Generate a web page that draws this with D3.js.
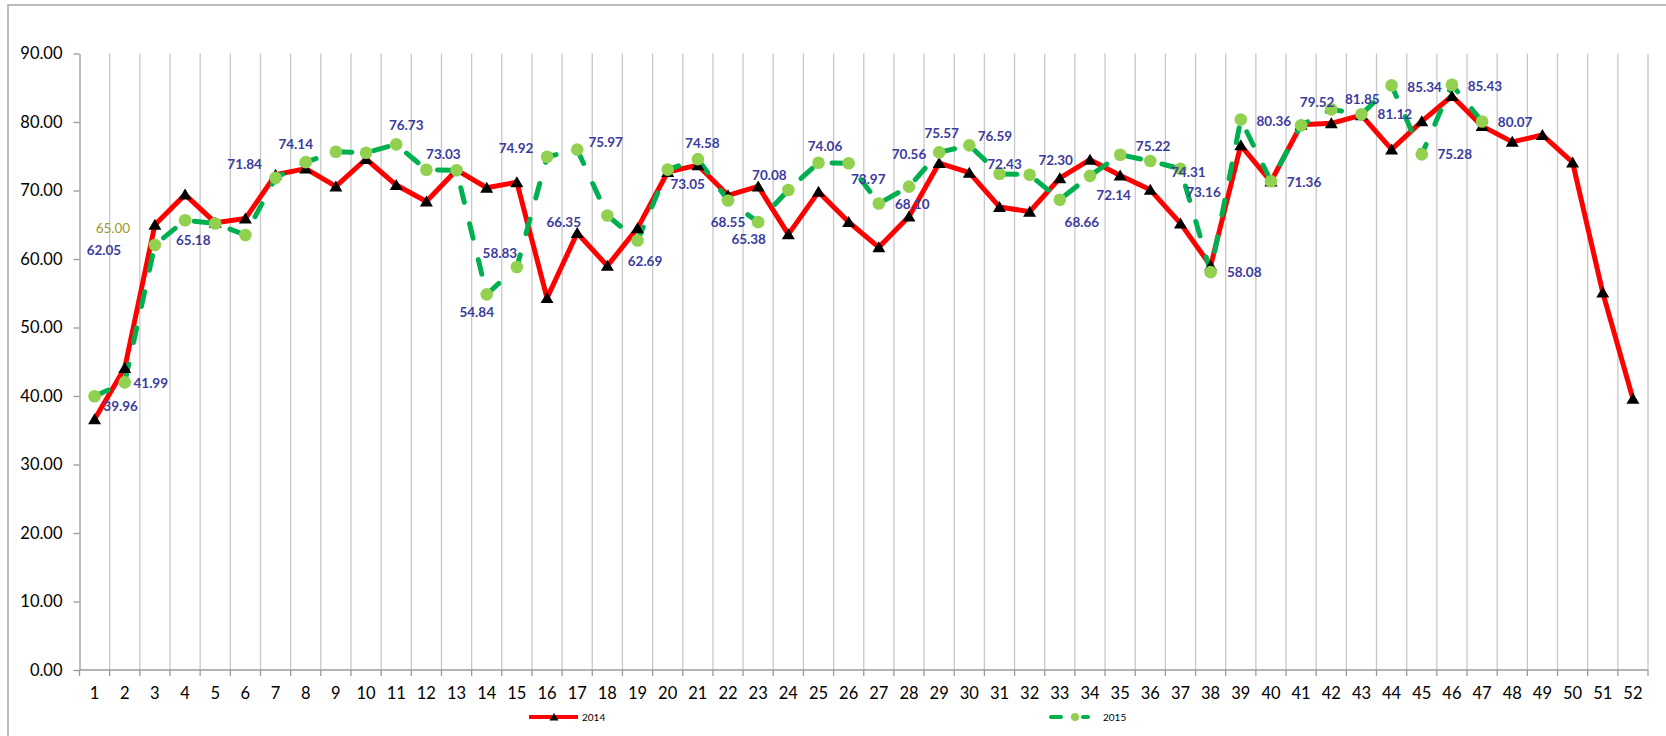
<!DOCTYPE html>
<html>
<head>
<meta charset="utf-8">
<script src="https://cdn.jsdelivr.net/npm/d3@7"></script>
<style>
body{margin:0;background:#fff;}
svg text{font-family:Lato,"Open Sans",sans-serif;}
</style>
</head>
<body>
<div id="chart"></div>
<script>
var weeks = d3.range(1, 53);
var yTicks = d3.range(0, 91, 10);

var values2014 = [36.6, 44.1, 65.0, 69.4, 65.3, 65.9, 72.3, 73.2, 70.6, 74.6,
  70.8, 68.4, 73.0, 70.4, 71.2, 54.3, 63.8, 59.0, 64.5, 72.7,
  73.7, 69.3, 70.6, 63.6, 69.8, 65.4, 61.7, 66.2, 74.0, 72.6,
  67.6, 66.9, 71.8, 74.5, 72.2, 70.1, 65.2, 59.0, 76.6, 71.3,
  79.6, 79.8, 81.0, 76.0, 80.1, 83.8, 79.4, 77.1, 78.1, 74.1,
  55.1, 39.6];

var values2015 = [39.96, 41.99, 62.05, 65.65, 65.18, 63.5, 71.84, 74.14, 75.66, 75.52,
  76.73, 73.03, 72.95, 54.84, 58.83, 74.92, 75.97, 66.35, 62.69, 73.05,
  74.58, 68.55, 65.38, 70.08, 74.06, 73.97, 68.10, 70.56, 75.57, 76.59,
  72.43, 72.30, 68.66, 72.14, 75.22, 74.31, 73.16, 58.08, 80.36, 71.36,
  79.52, 81.85, 81.12, 85.34, 75.28, 85.43, 80.07];

// where each 2015 label sits relative to its point (null = label not shown)
var labelOffsets2015 = [[26,10.5],[26,1],[-51,5],null,[-22,17],null,[-31,-13.5],[-10,-18],null,null,
  [10,-19],[17,-15],null,[-10,17.5],[-17,-13.5],[-31,-8.4],[28.5,-7],[-43.6,6.3],[7.5,21],[20,15],
  [4.5,-15.7],[0,21.4],[-9.5,17.3],[-19,-15],[6.5,-16.5],[19.6,16],[33.4,1],[0,-32],[2.5,-19.5],[25.6,-9.5],
  [5,-9.7],[26,-14.6],[22,23],[23.6,19.3],[33,-8],[38,11.5],[23,23],[33.6,0],[33,1.3],[33,0.7],
  [16,-23],[31,-10],[33.4,0],[33,1.4],[33,0],[33,1],[33,1]];

var width = 1666, height = 736;
var svg = d3.select("#chart").append("svg")
  .attr("width", width)
  .attr("height", height);

// chart area border
svg.append("path")
  .attr("d", "M8,736V5H1666")
  .attr("fill", "none")
  .attr("stroke", "#a6a6a6")
  .attr("stroke-width", 1.5);

var x = d3.scaleBand().domain(weeks).range([79.5, 1648]);
var y = d3.scaleLinear().domain([0, 90]).range([670, 53.5]);
var cx = function(d, i) { return x(weeks[i]) + x.bandwidth() / 2; };

// vertical gridlines between categories
svg.append("g").selectAll("line")
  .data(weeks)
  .enter().append("line")
  .attr("x1", function(d) { return x(d) + x.bandwidth(); })
  .attr("x2", function(d) { return x(d) + x.bandwidth(); })
  .attr("y1", y(90))
  .attr("y2", y(0))
  .attr("stroke", "#c8c8c8")
  .attr("stroke-width", 1.3);

// x tick marks
svg.append("g").selectAll("line")
  .data([0].concat(weeks))
  .enter().append("line")
  .attr("x1", function(d) { return d == 0 ? x(1) : x(d) + x.bandwidth(); })
  .attr("x2", function(d) { return d == 0 ? x(1) : x(d) + x.bandwidth(); })
  .attr("y1", y(0))
  .attr("y2", y(0) + 6)
  .attr("stroke", "#9a9a9a")
  .attr("stroke-width", 1.3);

// y axis
var yAxis = svg.append("g")
  .attr("transform", "translate(" + x(1) + ",0)")
  .call(d3.axisLeft(y).tickValues(yTicks).tickFormat(d3.format(".2f")).tickSize(6).tickSizeOuter(0).tickPadding(11));
yAxis.select(".domain").attr("stroke", "#9a9a9a").attr("stroke-width", 1.3);
yAxis.selectAll(".tick line").attr("stroke", "#9a9a9a").attr("stroke-width", 1.3);
yAxis.selectAll("text").attr("font-size", 16.5).attr("fill", "#000").style("font-family", "Lato");

// x axis line
svg.append("line")
  .attr("x1", x(1)).attr("x2", 1648)
  .attr("y1", y(0)).attr("y2", y(0))
  .attr("stroke", "#9a9a9a")
  .attr("stroke-width", 1.5);

// x labels
svg.append("g").selectAll("text")
  .data(weeks)
  .enter().append("text")
  .attr("x", function(d) { return x(d) + x.bandwidth() / 2; })
  .attr("y", 693)
  .attr("dy", "0.35em")
  .attr("text-anchor", "middle")
  .attr("font-size", 16.5)
  .text(function(d) { return d; });

var line = d3.line()
  .x(cx)
  .y(function(d) { return y(d); });

// 2014 line
svg.append("path")
  .datum(values2014)
  .attr("d", line)
  .attr("fill", "none")
  .attr("stroke", "#ff0000")
  .attr("stroke-width", 5)
  .attr("stroke-linejoin", "round");

// 2015 dashed line
svg.append("path")
  .datum(values2015)
  .attr("d", line)
  .attr("fill", "none")
  .attr("stroke", "#00b050")
  .attr("stroke-width", 5)
  .attr("stroke-linecap", "round")
  .attr("stroke-dasharray", "15,22");

// triangles
svg.append("g").selectAll("path")
  .data(values2014)
  .enter().append("path")
  .attr("d", "M0,-6L6.5,5L-6.5,5Z")
  .attr("transform", function(d, i) { return "translate(" + cx(d, i) + "," + y(d) + ")"; })
  .attr("fill", "#000");

// circles
svg.append("g").selectAll("circle")
  .data(values2015)
  .enter().append("circle")
  .attr("cx", cx)
  .attr("cy", function(d) { return y(d); })
  .attr("r", 6.3)
  .attr("fill", "#92d050");

// 2015 data labels
var labels2015 = values2015
  .map(function(v, i) { return { v: v, i: i, off: labelOffsets2015[i] }; })
  .filter(function(d) { return d.off != null; });

svg.append("g").selectAll("text")
  .data(labels2015)
  .enter().append("text")
  .attr("x", function(d) { return cx(d.v, d.i) + d.off[0]; })
  .attr("y", function(d) { return y(d.v) + d.off[1]; })
  .attr("dy", "0.35em")
  .attr("text-anchor", "middle")
  .attr("font-size", 13.5)
  .attr("font-weight", "bold")
  .attr("fill", "#3c3ca0")
  .text(function(d) { return d.v.toFixed(2); });

// the single 2014 label (week 3)
svg.append("text")
  .attr("x", cx(values2014[2], 2) - 42)
  .attr("y", y(values2014[2]) + 3.5)
  .attr("dy", "0.35em")
  .attr("text-anchor", "middle")
  .attr("font-size", 13.5)
  .attr("fill", "#9a9a30")
  .text(values2014[2].toFixed(2));

// legend
var lg = svg.append("g");
lg.append("line").attr("x1", 529).attr("x2", 578).attr("y1", 717).attr("y2", 717)
  .attr("stroke", "#ff0000").attr("stroke-width", 4);
lg.append("path").attr("d", "M0,-4L4.5,3.5L-4.5,3.5Z")
  .attr("transform", "translate(554,717)").attr("fill", "#000");
lg.append("text").attr("x", 582).attr("y", 717).attr("dy", "0.35em")
  .attr("font-size", 10).text("2014");
lg.append("line").attr("x1", 1051).attr("x2", 1088).attr("y1", 717).attr("y2", 717)
  .attr("stroke", "#00b050").attr("stroke-width", 4)
  .attr("stroke-linecap", "round").attr("stroke-dasharray", "10,22");
lg.append("circle").attr("cx", 1075).attr("cy", 717).attr("r", 4).attr("fill", "#92d050");
lg.append("text").attr("x", 1103).attr("y", 717).attr("dy", "0.35em")
  .attr("font-size", 10).text("2015");
</script>
</body>
</html>
